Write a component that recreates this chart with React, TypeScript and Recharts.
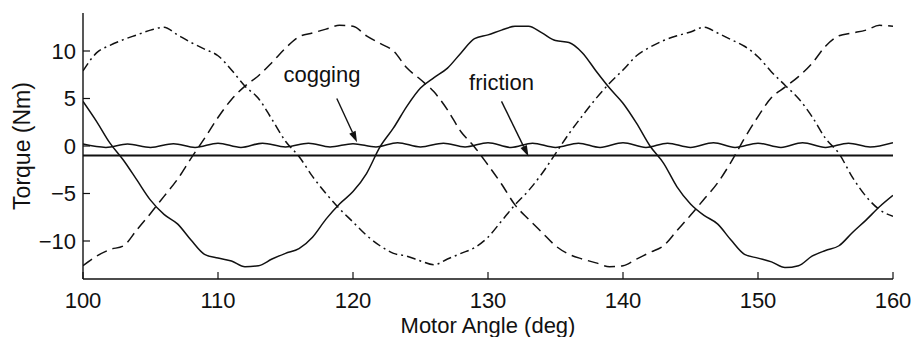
import React from 'react';
import { LineChart, Line, XAxis, YAxis, ReferenceLine, ReferenceDot, Label } from 'recharts';

const angles = [100,101,102,103,104,105,106,107,108,109,110,111,112,113,114,115,116,117,118,119,120,121,122,123,124,125,126,127,128,129,130,131,132,133,134,135,136,137,138,139,140,141,142,143,144,145,146,147,148,149,150,151,152,153,154,155,156,157,158,159,160];

const torqueSolid = [4.7,2.6,0.3,-1.5,-3.6,-5.7,-7.2,-8.2,-9.9,-11.4,-11.8,-12.1,-12.7,-12.6,-11.9,-11.3,-10.8,-9.6,-7.7,-6.1,-4.8,-2.9,-0.1,1.9,4.2,6.1,7.2,8.2,9.8,11.3,11.7,12.2,12.6,12.6,11.9,11.1,10.9,9.8,7.9,6.1,4.5,2.4,0.0,-1.8,-4.3,-6.1,-7.3,-8.2,-9.9,-11.4,-11.8,-12.2,-12.8,-12.6,-11.6,-11.0,-10.5,-9.1,-7.8,-6.4,-5.2];

const torqueDashed = [-12.6,-11.6,-10.9,-10.5,-8.8,-7.1,-5.3,-3.5,-1.3,0.8,3.0,4.9,6.3,7.4,8.8,10.3,11.5,11.9,12.3,12.7,12.6,11.6,10.8,10.0,8.2,7.0,5.7,3.8,1.5,-0.1,-2.0,-4.0,-6.2,-7.7,-9.1,-10.5,-11.4,-11.9,-12.3,-12.7,-12.6,-11.9,-11.2,-10.5,-8.9,-7.3,-5.6,-3.9,-1.7,0.8,3.1,5.1,6.2,7.3,8.7,10.5,11.6,11.9,12.2,12.7,12.6];

const torqueDashDot = [7.9,9.8,10.6,11.2,11.7,12.2,12.5,11.7,10.9,10.2,9.5,8.0,6.3,5.0,2.8,0.5,-1.1,-3.2,-5.0,-6.6,-8.0,-9.4,-10.5,-11.3,-11.6,-12.1,-12.5,-11.9,-11.3,-10.7,-9.6,-7.9,-6.2,-4.7,-2.9,-0.8,1.3,3.2,5.0,6.6,8.0,9.5,10.4,11.1,11.6,12.0,12.5,11.9,11.2,10.5,9.4,7.8,6.4,5.0,3.1,0.8,-0.8,-3.3,-5.3,-6.7,-7.4];

const coggingAngles = [100,101.7,103.3,105,106.7,108.3,110,111.7,113.3,115,116.7,118.3,120,121.7,123.3,125,126.7,128.3,130,131.7,133.3,135,136.7,138.3,140,141.7,143.3,145,146.7,148.3,150,151.7,153.3,155,156.7,158.3,160];
const coggingTorque = [0.2,-0.15,0.2,-0.15,0.25,-0.15,0.3,-0.15,0.3,-0.1,0.3,-0.1,0.25,-0.1,0.35,-0.1,0.3,-0.1,0.35,-0.15,0.3,-0.15,0.3,-0.15,0.35,-0.15,0.3,-0.15,0.35,-0.15,0.3,-0.15,0.35,-0.15,0.3,-0.1,0.35];

const frictionAngles = [100, 160];
const frictionTorque = [-1.0, -1.0];

const xTicks = [100, 110, 120, 130, 140, 150, 160];
const yTicks = [-10, -5, 0, 5, 10];

const phaseData = angles.map((a, i) => ({ angle: a, solid: torqueSolid[i], dashed: torqueDashed[i], dashDot: torqueDashDot[i] }));
const coggingData = coggingAngles.map((a, i) => ({ angle: a, cogging: coggingTorque[i] }));
const frictionData = frictionAngles.map((a, i) => ({ angle: a, friction: frictionTorque[i] }));

const INK = '#111';
const FONT = '"Liberation Sans", Arial, Helvetica, sans-serif';

const fmt = (v: number) => (v < 0 ? `\u2212${Math.abs(v)}` : `${v}`);

const Arrow = (props: any) => {
  const { x1, y1, x2, y2 } = props;
  const dx = x2 - x1;
  const dy = y2 - y1;
  const len = Math.hypot(dx, dy) || 1;
  const ux = dx / len;
  const uy = dy / len;
  const hl = 11;
  const hw = 3.5;
  const bx = x2 - ux * hl;
  const by = y2 - uy * hl;
  return (
    <g>
      <line x1={x1} y1={y1} x2={bx} y2={by} stroke={INK} strokeWidth={1.4} />
      <polygon points={`${x2},${y2} ${bx - uy * hw},${by + ux * hw} ${bx + uy * hw},${by - ux * hw}`} fill={INK} />
    </g>
  );
};

const makeText = (txt: string) => (props: any) => (
  <text x={props.cx} y={props.cy} textAnchor="middle" fontSize={22} fontFamily={FONT} fill={INK}>{txt}</text>
);

export default function App() {
  return (
    <div style={{ position: 'absolute', left: 0, top: 0, background: '#fff' }}>
      <LineChart width={915} height={337} data={phaseData} margin={{ top: 13, right: 22, bottom: 0, left: 0 }} style={{ fontFamily: FONT }}>
        <XAxis dataKey="angle" type="number" domain={[100, 160]} ticks={xTicks} height={58}
          tickSize={-7} tickMargin={20} tick={{ fontSize: 22, fill: INK, fontFamily: FONT }}
          axisLine={{ stroke: INK, strokeWidth: 1.4 }} tickLine={{ stroke: INK, strokeWidth: 1.2 }} allowDataOverflow>
          <Label content={(p: any) => {
            const vb = p.viewBox || { x: 83, y: 279, width: 810, height: 58 };
            return <text x={vb.x + vb.width / 2} y={vb.y + 54} textAnchor="middle" fontSize={22} fontFamily={FONT} fill={INK}>Motor Angle (deg)</text>;
          }} />
        </XAxis>
        <XAxis xAxisId="top" orientation="top" dataKey="angle" type="number" domain={[100, 160]} ticks={xTicks} height={0}
          tickSize={-7} tick={false} axisLine={{ stroke: INK, strokeWidth: 1.4 }} tickLine={{ stroke: INK, strokeWidth: 1.2 }} allowDataOverflow />
        <YAxis type="number" domain={[-14, 14]} ticks={yTicks} width={83} tickFormatter={fmt}
          tickSize={-7} tickMargin={14} tick={{ fontSize: 22, fill: INK, fontFamily: FONT }}
          axisLine={{ stroke: INK, strokeWidth: 1.4 }} tickLine={{ stroke: INK, strokeWidth: 1.2 }} allowDataOverflow>
          <Label content={(p: any) => {
            const vb = p.viewBox || { x: 0, y: 13, width: 83, height: 266 };
            const cx = 22;
            const cy = vb.y + vb.height / 2;
            return <text x={cx} y={cy} transform={`rotate(-90 ${cx} ${cy})`} textAnchor="middle" dominantBaseline="central" fontSize={23} fontFamily={FONT} fill={INK}>Torque (Nm)</text>;
          }} />
        </YAxis>
        <YAxis yAxisId="right" orientation="right" type="number" domain={[-14, 14]} ticks={yTicks} width={0}
          tickSize={-7} tick={false} axisLine={{ stroke: INK, strokeWidth: 1.4 }} tickLine={{ stroke: INK, strokeWidth: 1.2 }} allowDataOverflow />

        <Line data={frictionData} dataKey="friction" type="linear" stroke={INK} strokeWidth={2.2} dot={false} isAnimationActive={false} />
        <Line data={coggingData} dataKey="cogging" type="monotone" stroke={INK} strokeWidth={1.5} dot={false} isAnimationActive={false} />
        <Line dataKey="solid" type="monotone" stroke={INK} strokeWidth={1.5} dot={false} isAnimationActive={false} />
        <Line dataKey="dashed" type="monotone" stroke={INK} strokeWidth={1.5} strokeDasharray="11 6" dot={false} isAnimationActive={false} />
        <Line dataKey="dashDot" type="monotone" stroke={INK} strokeWidth={1.5} strokeDasharray="9 4 2 4" dot={false} isAnimationActive={false} />

        <ReferenceLine segment={[{ x: 118.8, y: 5.0 }, { x: 120.3, y: 0.4 }]} shape={Arrow} />
        <ReferenceLine segment={[{ x: 131.0, y: 4.7 }, { x: 133.0, y: -1.1 }]} shape={Arrow} />
        <ReferenceDot x={117.7} y={6.7} r={0} shape={makeText('cogging')} />
        <ReferenceDot x={131.0} y={5.85} r={0} shape={makeText('friction')} />
      </LineChart>
    </div>
  );
}
